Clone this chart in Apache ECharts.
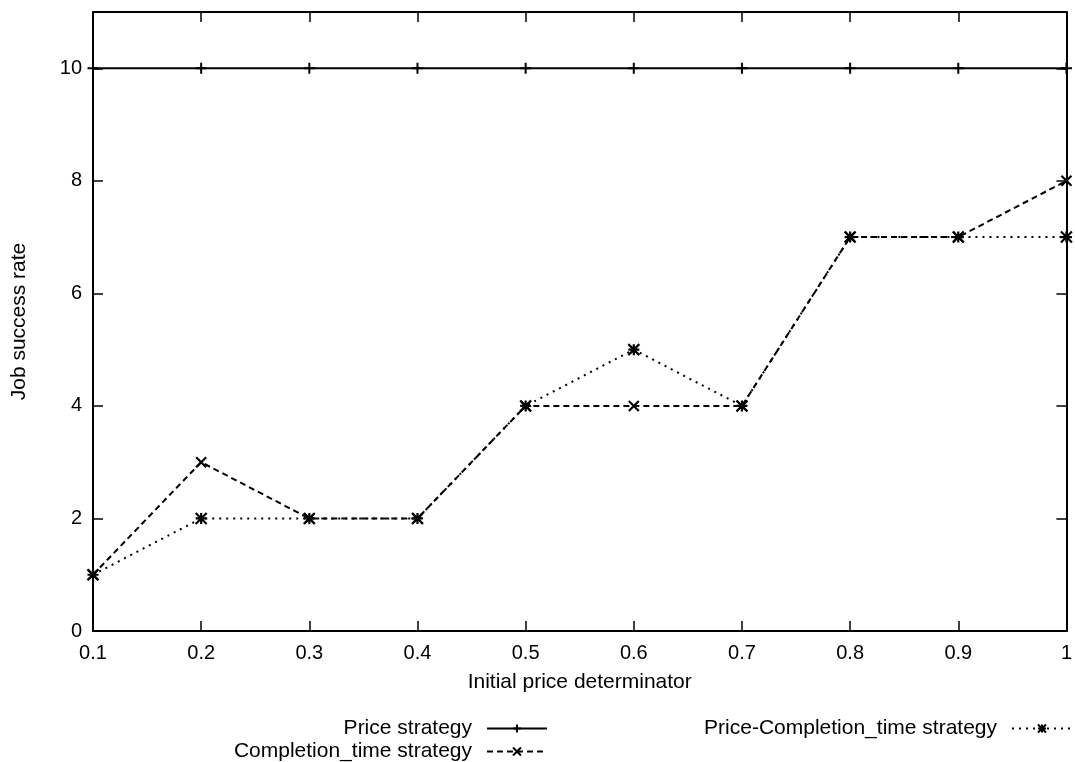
<!DOCTYPE html>
<html>
<head>
<meta charset="utf-8">
<script src="https://cdn.jsdelivr.net/npm/echarts@6/dist/echarts.min.js"></script>
<style>html,body{margin:0;padding:0;background:#fff}#c{width:1075px;height:762px}</style>
</head>
<body>
<div id="c"></div>
<script>
var categories = ['0.1','0.2','0.3','0.4','0.5','0.6','0.7','0.8','0.9','1'];
var priceStrategy = [10,10,10,10,10,10,10,10,10,10];
var completionStrategy = [1,3,2,2,4,4,4,7,7,8];
var priceCompletionStrategy = [1,2,2,2,4,5,4,7,7,7];
var yTicks = {min:0, max:11, interval:2};

var FONT = '"Liberation Sans", Arial, sans-serif';
var plus = 'path://M5,0L5,10M0,5L10,5';
var cross = 'path://M0,0L10,10M10,0L0,10';
var star = 'path://M0,0L10,10M10,0L0,10M5,0L5,10M0,5L10,5';

var chart = echarts.init(document.getElementById('c'), null, {renderer:'canvas'});
var axisLine = {show:true, onZero:false, lineStyle:{color:'#000', width:2}};
var tick = {show:true, inside:true, length:10, lineStyle:{color:'#000', width:1.5}};
function legendAt(name, right, top){
  return {
    data:[name], orient:'horizontal', align:'right', right:right, top:top,
    itemWidth:60, itemHeight:10, itemGap:0, padding:0,
    textStyle:{fontFamily:FONT, fontSize:21, color:'#000', padding:[0,10,0,0]},
    selectedMode:false
  };
}
chart.setOption({
  backgroundColor:'#fff',
  animation:false,
  grid:{left:93, right:4, top:12, bottom:131, containLabel:false},
  legend:[
    legendAt('Price strategy', 1075-548, 718),
    legendAt('Completion_time strategy', 1075-548, 741),
    legendAt('Price-Completion_time strategy', 2, 718)
  ],
  xAxis:[{
    type:'category', data:categories, boundaryGap:false, position:'bottom',
    name:'Initial price determinator', nameLocation:'middle', nameGap:41,
    nameTextStyle:{fontFamily:FONT, fontSize:21, color:'#000'},
    axisLine:axisLine, axisTick:tick,
    axisLabel:{fontFamily:FONT, fontSize:20, color:'#000', margin:12},
    splitLine:{show:false}
  },{
    type:'category', data:categories, boundaryGap:false, position:'top',
    axisLine:axisLine, axisTick:tick, axisLabel:{show:false}, splitLine:{show:false}
  }],
  yAxis:[{
    type:'value', min:yTicks.min, max:yTicks.max, interval:yTicks.interval, position:'left',
    name:'Job success rate', nameLocation:'middle', nameGap:63, nameRotate:90,
    nameTextStyle:{fontFamily:FONT, fontSize:21, color:'#000'},
    axisLine:axisLine, axisTick:tick,
    axisLabel:{fontFamily:FONT, fontSize:20, color:'#000', margin:11, showMaxLabel:false},
    splitLine:{show:false}
  },{
    type:'value', min:yTicks.min, max:yTicks.max, interval:yTicks.interval, position:'right',
    axisLine:axisLine, axisTick:tick, axisLabel:{show:false}, splitLine:{show:false}
  }],
  series:[{
    name:'Price strategy', type:'line', data:priceStrategy,
    symbol:plus, symbolSize:11, showAllSymbol:true,
    lineStyle:{color:'#000', width:2, type:'solid'},
    itemStyle:{color:'#000', borderColor:'#000', borderWidth:2}
  },{
    name:'Completion_time strategy', type:'line', data:completionStrategy,
    symbol:cross, symbolSize:10, showAllSymbol:true,
    lineStyle:{color:'#000', width:2, type:[6,4]},
    itemStyle:{color:'#000', borderColor:'#000', borderWidth:2.2}
  },{
    name:'Price-Completion_time strategy', type:'line', data:priceCompletionStrategy,
    symbol:star, symbolSize:11, showAllSymbol:true,
    lineStyle:{color:'#000', width:2, type:[2,5]},
    itemStyle:{color:'#000', borderColor:'#000', borderWidth:2.2}
  }]
});
</script>
</body>
</html>
